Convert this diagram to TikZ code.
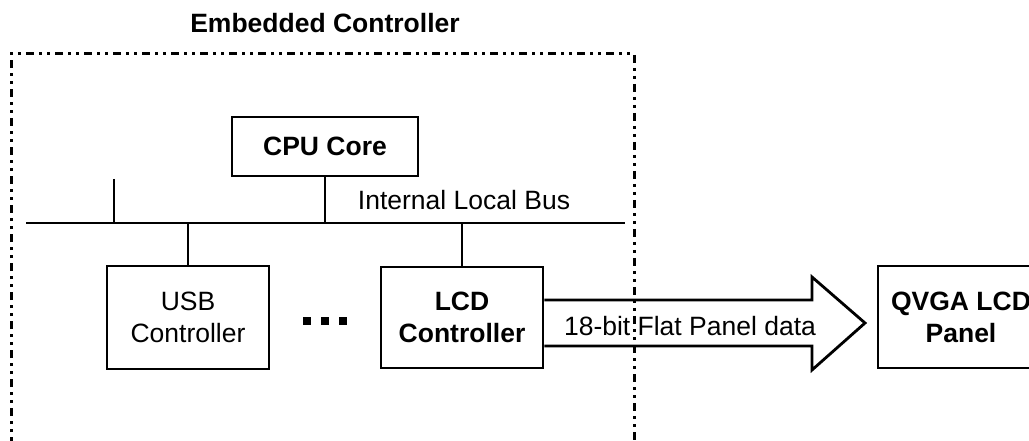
\documentclass[tikz,border=0pt]{standalone}
\usepackage{fontspec}
\setmainfont{Liberation Sans}
\usetikzlibrary{calc}
\newcommand\diagfont{\fontsize{26.5}{32}\selectfont}
\tikzset{
  box/.style={draw, line width=2.8pt, rectangle, inner sep=0pt, align=center, font=\diagfont},
  boldbox/.style={box, font=\diagfont\bfseries},
  busline/.style={line width=2.8pt},
  framedash/.style={line width=3pt, dash pattern=on 8pt off 5pt on 3pt off 5pt on 3pt off 5pt},
  lbl/.style={inner sep=0pt, font=\diagfont},
  dotsq/.style={fill=black, draw=none},
}
\begin{document}
\begin{tikzpicture}[x=1pt,y=-1pt]
\fill[white] (0,0) rectangle (1029,441);
\useasboundingbox (0,0) rectangle (1029,441);
\clip (0,0) rectangle (1029,441);

% title
\node[lbl, font=\diagfont\bfseries, anchor=base] (title) at (325,33) {Embedded Controller};

% boxes
\node[boldbox, minimum width=186pt, minimum height=59pt] (cpu) at (325,146.5) {CPU Core};
\node[box, minimum width=162pt, minimum height=103pt] (usb) at (188,317.5) {USB\\Controller};
\node[boldbox, minimum width=162pt, minimum height=101pt] (lcd) at (462,317.5) {LCD\\Controller};
\node[boldbox, minimum width=166pt, minimum height=102pt] (panel) at (961,317) {QVGA LCD\\Panel};

% bus
\coordinate (busL) at (26,223);
\coordinate (busR) at (625,223);
\coordinate (stub) at (114,179);
\draw[busline] (busL) -- (busR);
\draw[busline] (stub) -- (stub |- busL);
\draw[busline] (cpu.south) -- (cpu.south |- busL);
\draw[busline] (usb.north) -- (usb.north |- busL);
\draw[busline] (lcd.north) -- (lcd.north |- busL);
\node[lbl, anchor=base] (buslabel) at (464,210) {Internal Local Bus};

% ellipsis squares
\fill[dotsq] (303,317) rectangle ++(8,8);
\fill[dotsq] (321,317) rectangle ++(8,8);
\fill[dotsq] (339,317) rectangle ++(8,8);

% block arrow
\coordinate (shaftT) at (812,300);
\coordinate (shaftB) at (812,346);
\coordinate (headT) at (812,277);
\coordinate (headB) at (812,370);
\coordinate (tip) at (865,323);
\draw[line width=2.8pt, line join=miter] (lcd.east |- shaftT) -- (shaftT) -- (headT) -- (tip) -- (headB) -- (shaftB) -- (lcd.east |- shaftB);
\node[lbl, anchor=base] (datalabel) at (690,335) {18-bit Flat Panel data};

% dash-dot frame
\draw[framedash] (11,445) -- (11,54) -- (634,54) -- (634,445);
\end{tikzpicture}
\end{document}
